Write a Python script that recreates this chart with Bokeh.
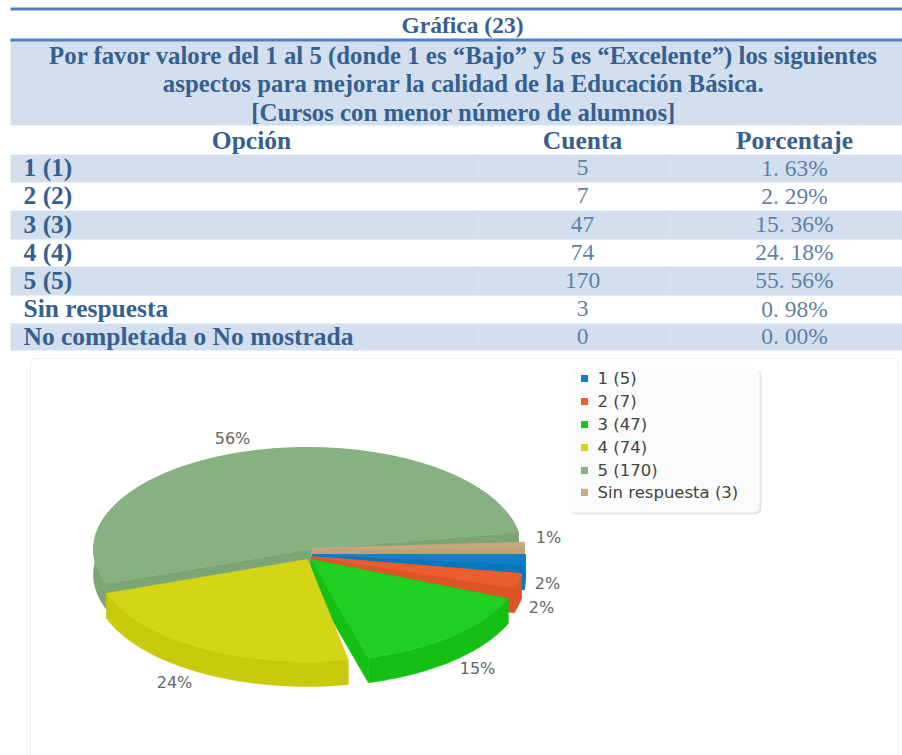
import math
from bokeh.embed import file_html
from bokeh.resources import INLINE
from bokeh.plotting import figure
from bokeh.models import Range1d, BoxAnnotation
from bokeh.core.properties import value

# ---------- data ----------
title = "Gráfica (23)"
question = ["Por favor valore del 1 al 5 (donde 1 es “Bajo” y 5 es “Excelente”) los siguientes",
            "aspectos para mejorar la calidad de la Educación Básica.",
            "[Cursos con menor número de alumnos]"]
headers = ["Opción", "Cuenta", "Porcentaje"]
options = ["1 (1)", "2 (2)", "3 (3)", "4 (4)", "5 (5)", "Sin respuesta", "No completada o No mostrada"]
counts = ["5", "7", "47", "74", "170", "3", "0"]
percents = ["1. 63%", "2. 29%", "15. 36%", "24. 18%", "55. 56%", "0. 98%", "0. 00%"]
pie_names = ["1", "2", "3", "4", "5", "Sin respuesta"]
pie_values = [5, 7, 47, 74, 170, 3]
pie_labels = ["2%", "2%", "15%", "24%", "56%", "1%"]

# ---------- style / layout ----------
top_colors = ["#0f80c8", "#e95f2f", "#20cf20", "#d5d517", "#87b183", "#c8a97f"]
side_colors = ["#0876bd", "#dc5427", "#14c014", "#c9c90e", "#7ba577", "#bfa077"]
legend_colors = ["#0f80c8", "#e95f2f", "#14c814", "#d5d517", "#87b183", "#c8a97f"]
apex = [(312, 554), (311, 556), (311, 559), (307, 559), (307, 549), (311, 548)]
radii = [213, 213, 213, 213, 214, 213]
nudge = [(0, 0), (-3.7, -3.9), (-8.5, -5.1), (-9.6, -4.1), (-4.1, 6.1), (0, 0)]
label_xy = [(547, 583), (541, 607), (477, 668), (174, 682), (232, 438), (548, 537)]
RY, DEPTH = 102, 25
BAND, DARK, BODY, RULE = "#d3dfee", "#365f91", "#5f7fa8", "#4f81bd"
row_tops = [154, 182, 210, 239, 266, 295, 323]
row_bots = [182, 210, 239, 266, 295, 323, 350]
TL, TR = 10, 902

p = figure(width=902, height=755, output_backend="svg", toolbar_location=None,
           x_range=Range1d(0, 902), y_range=Range1d(755, 0),
           min_border=0, outline_line_color=None, background_fill_color="white")
p.axis.visible = False
p.grid.visible = False

SERIF = value("Liberation Serif")
SANS = value("DejaVu Sans")


def put(x, y, t, size, color, bold=False, align="center", font=SERIF):
    p.text([x], [y], text=[t], text_font=font, text_font_size=f"{size}px", text_color=color,
           text_font_style="bold" if bold else "normal", text_align=align, text_baseline="middle")


# ---------- table ----------
p.quad(left=[TL], right=[TR], top=[39], bottom=[125], fill_color=BAND, line_color=None)
shaded = [0, 2, 4, 6]
p.quad(left=[TL] * 4, right=[TR] * 4, top=[row_tops[i] for i in shaded], bottom=[row_bots[i] for i in shaded],
       fill_color=BAND, line_color=None)
p.quad(left=[TL, TL], right=[TR, TR], top=[7, 38], bottom=[10, 41], fill_color=RULE, line_color=None)
for xc in (478, 670):
    p.segment([xc] * 4, [row_tops[i] for i in shaded], [xc] * 4, [row_bots[i] for i in shaded],
              line_color="#dbe5f2", line_width=1)

put(462, 24.5, title, 23.5, DARK, True)
for t, y in zip(question, (54.5, 82.5, 111.5)):
    put(463, y, t, 24.8, DARK, True)
for t, x in zip(headers, (251, 582, 794)):
    put(x, 139.5, t, 25.5, DARK, True)
for i in range(7):
    y = (row_tops[i] + row_bots[i]) / 2 - 1
    put(23, y, options[i], 25.5, DARK, True, "left")
    put(582, y, counts[i], 23.5, BODY)
    put(794, y, percents[i], 23.5, BODY)

# ---------- chart frame ----------
p.add_layout(BoxAnnotation(left=30, right=898, top=358, bottom=760, fill_color="white", fill_alpha=1,
                           line_color="#efefef", line_alpha=1, line_width=1, border_radius=5, level="underlay"))

# ---------- pie ----------
total = sum(pie_values)
start = 0.0
spans = []
for v in pie_values:
    end = start - v / total * 360
    spans.append((start, end))
    start = end


def arc(cx, cy, rx, a0, a1):
    n = max(2, int(abs(a1 - a0) * 1.5))
    return [(cx + rx * math.cos(math.radians(a0 + (a1 - a0) * k / n)),
             cy - RY * math.sin(math.radians(a0 + (a1 - a0) * k / n))) for k in range(n + 1)]


xs, ys, fills = [], [], []


def add(poly, color):
    xs.append([q[0] for q in poly])
    ys.append([q[1] for q in poly])
    fills.append(color)


for i in (4, 5, 0, 1, 2, 3):
    cx, cy = apex[i]
    a0 = spans[i][0] + nudge[i][0]
    a1 = spans[i][1] + nudge[i][1]
    rim = arc(cx, cy, radii[i], a0, a1)
    down = lambda pts: [(q[0], q[1] + DEPTH) for q in pts]
    add(rim + down(rim)[::-1], side_colors[i])
    for tip in (rim[0], rim[-1]):
        add([(cx, cy), tip, (tip[0], tip[1] + DEPTH), (cx, cy + DEPTH)], side_colors[i])
    add([(cx, cy)] + rim, top_colors[i])

p.patches(xs, ys, fill_color=fills, line_color=fills, line_width=0.5)

for t, (x, y) in zip(pie_labels, label_xy):
    put(x, y, t, 16, "#666666", font=SANS)

# ---------- legend ----------
p.add_layout(BoxAnnotation(left=570, right=761, top=369, bottom=514, fill_color="#e6e6e6", fill_alpha=1,
                           line_color=None, border_radius=6, level="underlay"))
p.add_layout(BoxAnnotation(left=568, right=759, top=367, bottom=512, fill_color="#fbfbfb", fill_alpha=1,
                           line_color=None, border_radius=6, level="underlay"))
leg_y = [378, 401, 424, 447, 470, 492]
p.rect([584] * 6, leg_y, width=7, height=7, fill_color=legend_colors, line_color=None)
for n, v, y in zip(pie_names, pie_values, leg_y):
    put(597, y, f"{n} ({v})", 16.5, "#444444", align="left", font=SANS)

open("out.html", "w").write(file_html(p, INLINE))
